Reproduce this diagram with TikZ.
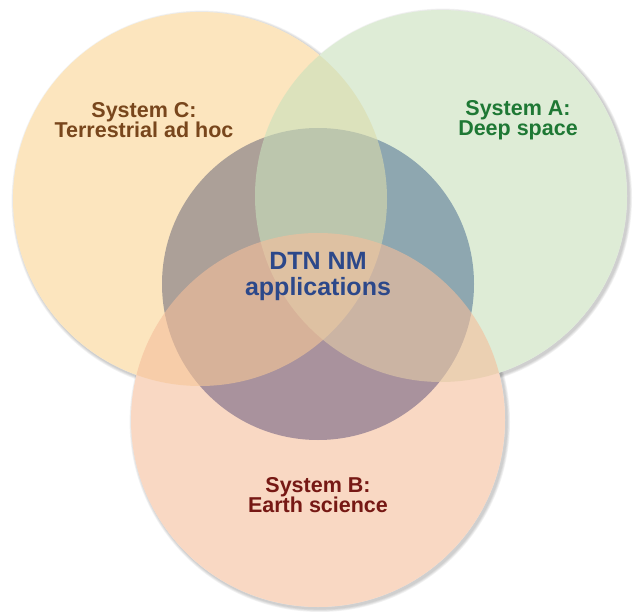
\documentclass[tikz,border=0pt]{standalone}
\usepackage{fontspec}
\setmainfont{Liberation Sans}

\definecolor{sysCfill}{RGB}{250,213,147}
\definecolor{sysAfill}{RGB}{200,224,188}
\definecolor{sysBfill}{RGB}{245,190,155}
\definecolor{corefill}{RGB}{55,82,160}
\definecolor{sysCtext}{RGB}{120,70,28}
\definecolor{sysAtext}{RGB}{30,120,52}
\definecolor{sysBtext}{RGB}{118,24,20}
\definecolor{coretext}{RGB}{44,72,138}

\begin{document}
\begin{tikzpicture}[x=1pt,y=-1pt,
  disc/.style={circle,inner sep=0pt,minimum size=#1},
  system/.style={disc=#1,fill opacity=0.6},
  label/.style={align=center,font=\fontsize{21.5}{20.5}\selectfont\bfseries}]
\useasboundingbox (0,0) rectangle (637,612);

% soft shadow, then white base so it only shows outside
\foreach \cx/\cy/\r in {200/199/187,441/196/186,318/420/187}
  \foreach \k in {1,...,4}
    \fill[black,opacity=0.05] (\cx+1.8,\cy+1.8) circle[radius=\r+\k*0.8];
\foreach \cx/\cy/\r in {200/199/187,441/196/186,318/420/187}
  \fill[white] (\cx,\cy) circle[radius=\r];

\node [disc=312pt,fill=corefill] (core) at (318,284) {};
\node [system=374pt,fill=sysCfill] (sysC) at (200,199) {};
\node [system=372pt,fill=sysAfill] (sysA) at (441,196) {};
\node [system=374pt,fill=sysBfill] (sysB) at (318,420) {};

\node [label,text=sysCtext] (labC) at (144,120) {System C:\\Terrestrial ad hoc};
\node [label,text=sysAtext] (labA) at (518,120) {System A:\\Deep space};
\node [label,text=sysBtext] (labB) at (318,495) {System B:\\Earth science};
\node [label,text=coretext,font=\fontsize{25}{26}\selectfont\bfseries] (labcore) at (318,276) {DTN NM\\applications};
\end{tikzpicture}
\end{document}
